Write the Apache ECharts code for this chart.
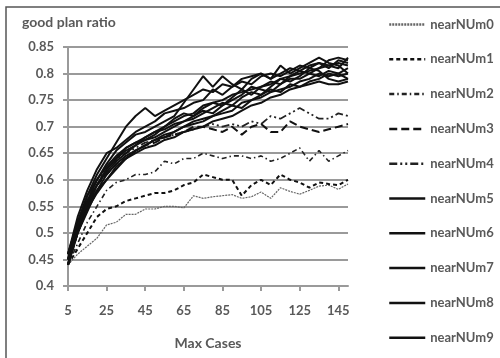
<!DOCTYPE html>
<html>
<head>
<meta charset="utf-8">
<script src="https://cdn.jsdelivr.net/npm/echarts@6/dist/echarts.min.js"></script>
<style>
  html, body { margin: 0; padding: 0; background: #fff; }
  #chart { width: 500px; height: 358px; }
</style>
</head>
<body>
<div id="chart"></div>
<script>
// x categories: max cases 5..150 step 5
const maxCases = [5, 10, 15, 20, 25, 30, 35, 40, 45, 50, 55, 60, 65, 70, 75, 80, 85, 90, 95, 100, 105, 110, 115, 120, 125, 130, 135, 140, 145, 150];

const nearNUm0 = [0.44, 0.46, 0.475, 0.49, 0.515, 0.52, 0.535, 0.535, 0.545, 0.545, 0.55, 0.55, 0.547, 0.57, 0.565, 0.568, 0.57, 0.572, 0.565, 0.568, 0.577, 0.565, 0.585, 0.578, 0.573, 0.58, 0.588, 0.59, 0.582, 0.592];
const nearNUm1 = [0.44, 0.47, 0.5, 0.53, 0.545, 0.55, 0.56, 0.565, 0.57, 0.575, 0.575, 0.58, 0.59, 0.595, 0.61, 0.605, 0.6, 0.6, 0.57, 0.59, 0.6, 0.59, 0.61, 0.6, 0.595, 0.585, 0.595, 0.592, 0.59, 0.6];
const nearNUm2 = [0.44, 0.48, 0.52, 0.55, 0.58, 0.595, 0.6, 0.61, 0.61, 0.615, 0.635, 0.63, 0.64, 0.64, 0.65, 0.645, 0.64, 0.645, 0.645, 0.64, 0.645, 0.635, 0.64, 0.65, 0.66, 0.635, 0.655, 0.635, 0.645, 0.655];
const nearNUm3 = [0.44, 0.5, 0.55, 0.59, 0.61, 0.63, 0.64, 0.655, 0.665, 0.67, 0.68, 0.685, 0.69, 0.7, 0.7, 0.695, 0.69, 0.7, 0.685, 0.7, 0.705, 0.69, 0.69, 0.71, 0.7, 0.695, 0.69, 0.695, 0.7, 0.705];
const nearNUm4 = [0.44, 0.51, 0.56, 0.6, 0.62, 0.64, 0.65, 0.66, 0.67, 0.675, 0.68, 0.685, 0.69, 0.695, 0.7, 0.705, 0.7, 0.705, 0.7, 0.71, 0.705, 0.72, 0.715, 0.725, 0.735, 0.725, 0.715, 0.715, 0.725, 0.72];
const nearNUm5 = [0.45, 0.51, 0.55, 0.59, 0.62, 0.64, 0.66, 0.67, 0.68, 0.69, 0.7, 0.71, 0.72, 0.725, 0.74, 0.745, 0.75, 0.76, 0.765, 0.77, 0.775, 0.78, 0.79, 0.795, 0.8, 0.805, 0.81, 0.815, 0.82, 0.815];
const nearNUm6 = [0.46, 0.52, 0.57, 0.61, 0.64, 0.67, 0.7, 0.72, 0.735, 0.72, 0.73, 0.74, 0.75, 0.76, 0.77, 0.765, 0.78, 0.775, 0.79, 0.795, 0.8, 0.79, 0.8, 0.81, 0.805, 0.815, 0.82, 0.81, 0.825, 0.82];
const nearNUm7 = [0.44, 0.5, 0.55, 0.58, 0.61, 0.63, 0.645, 0.655, 0.665, 0.675, 0.685, 0.69, 0.7, 0.71, 0.715, 0.72, 0.73, 0.74, 0.735, 0.75, 0.755, 0.765, 0.77, 0.775, 0.785, 0.79, 0.8, 0.795, 0.8, 0.79];
const nearNUm8 = [0.45, 0.52, 0.56, 0.6, 0.63, 0.655, 0.67, 0.685, 0.69, 0.7, 0.71, 0.72, 0.745, 0.77, 0.795, 0.775, 0.795, 0.78, 0.77, 0.79, 0.8, 0.79, 0.815, 0.8, 0.81, 0.82, 0.83, 0.82, 0.815, 0.8];
const nearNUm9 = [0.46, 0.52, 0.57, 0.6, 0.625, 0.645, 0.66, 0.67, 0.675, 0.685, 0.7, 0.715, 0.725, 0.72, 0.735, 0.745, 0.74, 0.755, 0.77, 0.76, 0.775, 0.785, 0.78, 0.795, 0.805, 0.8, 0.81, 0.825, 0.83, 0.825];
// the bundle holds more solid lines than the legend lists
const nearNUm10 = [0.44, 0.51, 0.56, 0.59, 0.615, 0.635, 0.65, 0.665, 0.68, 0.69, 0.695, 0.705, 0.71, 0.72, 0.73, 0.725, 0.74, 0.75, 0.76, 0.775, 0.77, 0.765, 0.78, 0.79, 0.79, 0.8, 0.795, 0.805, 0.8, 0.81];
const nearNUm11 = [0.45, 0.5, 0.54, 0.58, 0.6, 0.625, 0.64, 0.655, 0.665, 0.675, 0.68, 0.69, 0.7, 0.705, 0.71, 0.72, 0.725, 0.73, 0.745, 0.75, 0.76, 0.77, 0.765, 0.78, 0.775, 0.785, 0.79, 0.8, 0.795, 0.8];
const nearNUm12 = [0.46, 0.53, 0.58, 0.62, 0.65, 0.66, 0.675, 0.69, 0.7, 0.71, 0.725, 0.73, 0.735, 0.745, 0.75, 0.77, 0.76, 0.775, 0.785, 0.78, 0.795, 0.8, 0.795, 0.805, 0.815, 0.81, 0.82, 0.815, 0.81, 0.83];
const nearNUm13 = [0.45, 0.51, 0.555, 0.59, 0.62, 0.64, 0.655, 0.665, 0.675, 0.68, 0.69, 0.7, 0.71, 0.715, 0.725, 0.735, 0.745, 0.74, 0.755, 0.765, 0.76, 0.775, 0.79, 0.785, 0.795, 0.81, 0.805, 0.79, 0.785, 0.79];
const nearNUm14 = [0.44, 0.5, 0.545, 0.575, 0.6, 0.62, 0.64, 0.65, 0.66, 0.665, 0.675, 0.68, 0.69, 0.695, 0.7, 0.71, 0.715, 0.72, 0.73, 0.74, 0.745, 0.755, 0.76, 0.77, 0.775, 0.78, 0.785, 0.78, 0.78, 0.785];

const legendNames = ["nearNUm0", "nearNUm1", "nearNUm2", "nearNUm3", "nearNUm4", "nearNUm5", "nearNUm6", "nearNUm7", "nearNUm8", "nearNUm9"];

const font = "Lato";
const grey = "#595959";
const gridGrey = "#9a9a9a";

const mk = (name, data, style) => ({
    name: name,
    type: "line",
    data: data,
    symbol: "none",
    smooth: false,
    lineStyle: style,
    itemStyle: { color: style.color },
    emphasis: { disabled: true },
});

const solid = { color: "#111", width: 2, type: "solid" };

const series = [
    mk("nearNUm0", nearNUm0, { color: "#666", width: 1.2, type: [2, 1] }),
    mk("nearNUm1", nearNUm1, { color: "#111", width: 2, type: [4, 3] }),
    mk("nearNUm2", nearNUm2, { color: "#222", width: 1.6, type: [5, 3, 1.5, 3] }),
    mk("nearNUm3", nearNUm3, { color: "#111", width: 2, type: [8, 4] }),
    mk("nearNUm4", nearNUm4, { color: "#222", width: 1.8, type: [8, 3, 2, 3, 2, 3] }),
    mk("nearNUm5", nearNUm5, solid),
    mk("nearNUm6", nearNUm6, solid),
    mk("nearNUm7", nearNUm7, solid),
    mk("nearNUm8", nearNUm8, solid),
    mk("nearNUm9", nearNUm9, solid),
    mk("nearNUm10", nearNUm10, solid),
    mk("nearNUm11", nearNUm11, solid),
    mk("nearNUm12", nearNUm12, solid),
    mk("nearNUm13", nearNUm13, solid),
    mk("nearNUm14", nearNUm14, solid),
];

const chart = echarts.init(document.getElementById("chart"), null, { renderer: "canvas" });
chart.setOption({
    animation: false,
    backgroundColor: "#fff",
    textStyle: { fontFamily: font },
    graphic: [
        {
            type: "rect",
            shape: { x: 6, y: 7, width: 600, height: 400 },
            style: { fill: "none", stroke: "#555", lineWidth: 1.5 },
            silent: true,
        },
        {
            type: "text",
            left: 22,
            top: 15,
            style: { text: "good plan ratio", fill: grey, font: "bold 14px " + font },
            silent: true,
        },
    ],
    grid: { left: 68, right: 152, top: 47, bottom: 72 },
    legend: {
        data: legendNames,
        orient: "vertical",
        left: 383,
        top: 13,
        itemWidth: 36,
        itemHeight: 14,
        itemGap: 21.8,
        itemStyle: { opacity: 0 },
        lineStyle: { width: 2.5 },
        textStyle: { color: grey, fontSize: 13, fontFamily: font, fontWeight: "bold" },
        selectedMode: false,
    },
    xAxis: {
        type: "category",
        data: maxCases,
        boundaryGap: false,
        name: "Max Cases",
        nameLocation: "middle",
        nameGap: 50,
        nameTextStyle: { color: grey, fontSize: 14, fontWeight: "bold", fontFamily: font },
        axisLine: { lineStyle: { color: gridGrey, width: 2 } },
        axisTick: { show: true, interval: 3, length: 5, lineStyle: { color: gridGrey, width: 2 } },
        axisLabel: { interval: 3, margin: 18, color: grey, fontSize: 13, fontWeight: "bold", fontFamily: font },
        splitLine: { show: false },
    },
    yAxis: {
        type: "value",
        min: 0.4,
        max: 0.85,
        interval: 0.05,
        axisLine: { show: true, lineStyle: { color: gridGrey, width: 2 } },
        axisTick: { show: true, length: 5, lineStyle: { color: gridGrey, width: 2 } },
        axisLabel: { margin: 14, color: grey, fontSize: 13, fontWeight: "bold", fontFamily: font },
        splitLine: { show: true, lineStyle: { color: gridGrey, width: 2 } },
    },
    series: series,
});
</script>
</body>
</html>
